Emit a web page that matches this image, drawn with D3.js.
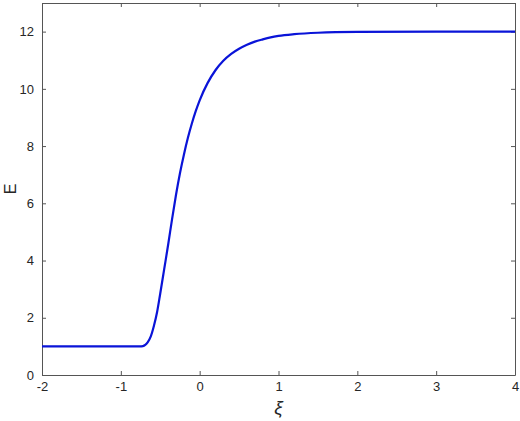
<!DOCTYPE html>
<html>
<head>
<meta charset="utf-8">
<script src="https://cdn.jsdelivr.net/npm/d3@7"></script>
<style>
  body { margin: 0; background: #fff; }
  text { font-family: "Liberation Sans", Arial, sans-serif; }
</style>
</head>
<body>
<script>
const w = 520;
const h = 421;

// values
const xiValues = [-2, -1.5, -1, -0.8, -0.76, -0.72, -0.69, -0.66, -0.62, -0.58, -0.54, -0.5, -0.45, -0.4, -0.35, -0.3, -0.25, -0.2, -0.15, -0.1, -0.05, 0, 0.1, 0.2, 0.3, 0.4, 0.5, 0.6, 0.7, 0.8, 0.9, 1.0, 1.2, 1.5, 2, 3, 4];
const eValues = [1, 1, 1, 1, 1.0, 1.01, 1.05, 1.14, 1.35, 1.72, 2.2, 2.85, 3.7, 4.55, 5.45, 6.3, 7.05, 7.7, 8.28, 8.78, 9.22, 9.6, 10.2, 10.65, 10.98, 11.22, 11.4, 11.54, 11.65, 11.73, 11.8, 11.85, 11.91, 11.96, 11.99, 12, 12];
const xTicks = [-2, -1, 0, 1, 2, 3, 4];
const yTicks = [0, 2, 4, 6, 8, 10, 12];

const points = xiValues.map((x, i) => [x, eValues[i]]);

const margin = { top: 3, right: 5, bottom: 46, left: 42 };

const svg = d3.select("body")
    .append("svg")
    .attr("width", w)
    .attr("height", h);

const xScale = d3.scaleLinear()
    .domain([-2, 4])
    .range([margin.left, w - margin.right]);

const yScale = d3.scaleLinear()
    .domain([0, 13])
    .range([h - margin.bottom, margin.top]);

const axisColor = "#555";
const tickLen = 4;
const plain = d => String(d);

function styleAxis(g) {
    g.select(".domain").attr("stroke", axisColor);
    g.selectAll(".tick line").attr("stroke", axisColor);
    g.selectAll(".tick text").attr("fill", "#262626").style("font-size", "13px");
}

svg.append("g")
    .attr("transform", "translate(0, " + (h - margin.bottom) + ")")
    .call(d3.axisBottom(xScale).tickValues(xTicks).tickFormat(plain).tickSizeInner(-tickLen).tickSizeOuter(0).tickPadding(7))
    .call(styleAxis);

svg.append("g")
    .attr("transform", "translate(0, " + margin.top + ")")
    .call(d3.axisTop(xScale).tickValues(xTicks).tickSizeInner(-tickLen).tickSizeOuter(0).tickFormat(""))
    .call(styleAxis);

svg.append("g")
    .attr("transform", "translate(" + margin.left + ", 0)")
    .call(d3.axisLeft(yScale).tickValues(yTicks).tickFormat(plain).tickSizeInner(-tickLen).tickSizeOuter(0).tickPadding(8))
    .call(styleAxis);

svg.append("g")
    .attr("transform", "translate(" + (w - margin.right) + ", 0)")
    .call(d3.axisRight(yScale).tickValues(yTicks).tickSizeInner(-tickLen).tickSizeOuter(0).tickFormat(""))
    .call(styleAxis);

const line = d3.line()
    .x(d => xScale(d[0]))
    .y(d => yScale(d[1]))
    .curve(d3.curveMonotoneX);

svg.append("path")
    .datum(points)
    .attr("fill", "none")
    .attr("stroke", "#0a14d8")
    .attr("stroke-width", 2.2)
    .attr("d", line);

svg.append("text")
    .attr("transform", "translate(16, " + yScale(6.5) + ") rotate(-90)")
    .attr("text-anchor", "middle")
    .attr("fill", "#262626")
    .style("font-size", "16px")
    .text("E");

svg.append("text")
    .attr("x", (xScale(-2) + xScale(4)) / 2)
    .attr("y", 414)
    .attr("text-anchor", "middle")
    .attr("fill", "#262626")
    .style("font-size", "19px")
    .style("font-style", "italic")
    .text("ξ");
</script>
</body>
</html>
